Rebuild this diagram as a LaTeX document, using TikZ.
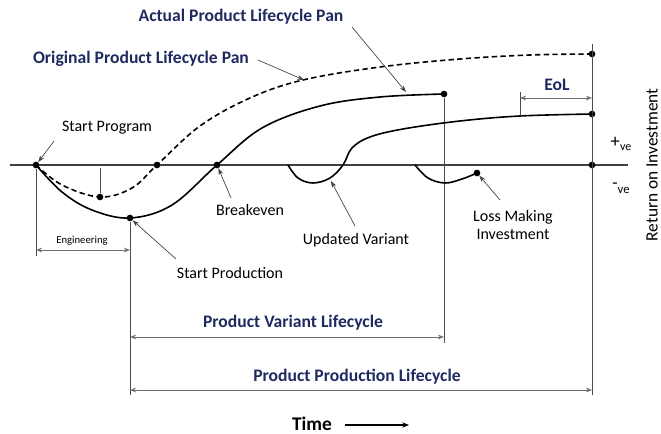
\documentclass[tikz,border=0pt]{standalone}
\usepackage{fontspec}
\setmainfont{Carlito}
\usetikzlibrary{arrows.meta}
\definecolor{navy}{RGB}{30,42,96}
\definecolor{lgray}{RGB}{110,110,110}
\begin{document}
\begin{tikzpicture}[x=0.75pt,y=-0.75pt,
  dot/.style={circle,fill=black,inner sep=0pt,minimum size=5pt},
  lbl/.style={font=\fontsize{12}{13.5}\selectfont,inner sep=1pt,align=center},
  title/.style={font=\bfseries\fontsize{13.2}{15}\selectfont,text=navy,inner sep=1pt},
  pointer/.style={draw=black!75,line width=0.5pt,-{Stealth[length=5pt,width=3.5pt]}},
  dim/.style={draw=lgray,line width=0.7pt,{Stealth[length=4.5pt,width=3.5pt]}-{Stealth[length=4.5pt,width=3.5pt]}},
  guide/.style={draw=black!70,line width=0.6pt},
  curve/.style={line width=1.2pt,line cap=round},
]
\useasboundingbox (0,0) rectangle (661,434);
% axis
\coordinate (axL) at (10,165);
\coordinate (axR) at (628,165);
\draw[line width=0.8pt,draw=black!75] (axL) -- (axR);
% dots
\node[dot] (sp) at (36,165) {};
\node[dot] (dmin) at (100,197) {};
\node[dot] (dcross) at (157,165) {};
\node[dot] (spr) at (130,218) {};
\node[dot] (be) at (217,165) {};
\node[dot] (aend) at (444,94) {};
\node[dot] (oend) at (592,54) {};
\node[dot] (vend) at (592,114) {};
\node[dot] (ax593) at (592,165) {};
\node[dot] (loss) at (477,173) {};
% vertical guide lines
\coordinate (v1b) at (36,256);
\coordinate (v2b) at (130,395);
\coordinate (v3b) at (444,343);
\coordinate (v4t) at (592,44);
\coordinate (v4b) at (592,395);
\coordinate (dminTop) at (100,168);
\draw[guide] (sp) -- (v1b);
\draw[guide] (spr) -- (v2b);
\draw[guide] (aend) -- (v3b);
\draw[guide] (v4t) -- (v4b);
\draw[guide] (dminTop) -- (dmin);
% original (dashed) curve
\draw[line width=1.2pt,dash pattern=on 4pt off 2.5pt] plot[smooth,tension=0.6] coordinates {(36,165) (62,185) (100,197) (132,188) (157,165) (200,126) (250,98) (303,80) (380,67) (460,59) (530,55) (592,54)};
% actual curve
\draw[curve] plot[smooth,tension=0.6] coordinates {(36,165) (62,192) (92,210) (130,218) (172,205) (217,165) (262,128) (320,106) (380,97) (444,94)};
% updated variant curve
\draw[curve] plot[smooth,tension=0.6] coordinates {(288,165) (298,178) (313,183) (330,178) (343,165) (352,148) (370,137) (403,129) (460,121) (520,116) (592,114)};
% loss-making dip
\draw[curve] plot[smooth,tension=0.6] coordinates {(415,165) (428,178) (445,183) (462,179) (477,173)};
% labels and pointers
\node[title] (tact) at (241,17) {Actual Product Lifecycle Pan};
\coordinate (pact) at (406,92);
\draw[pointer] (352,27) -- (pact);
\node[title] (torig) at (141,59) {Original Product Lifecycle Pan};
\coordinate (porig) at (304,80);
\draw[pointer] (258,60) -- (porig);
\node[lbl] (tsp) at (107,128) {Start Program};
\draw[pointer] (54,141) -- (sp);
\node[lbl] (tspr) at (230,273) {Start Production};
\draw[pointer] (176,259) -- (spr);
\node[lbl] (tbe) at (250,210) {Breakeven};
\draw[pointer] (231,198) -- (be);
\node[lbl] (tuv) at (356,240) {Updated Variant};
\coordinate (puv) at (331,181);
\draw[pointer] (355,226) -- (puv);
\node[lbl] (tloss) at (513,225) {Loss Making\\Investment};
\draw[pointer] (500,200) -- (loss);
% dimension arrows
\node[font=\fontsize{8}{9}\selectfont,inner sep=1pt] (teng) at (82,241) {Engineering};
\coordinate (e1) at (36,250);
\coordinate (e2) at (130,250);
\draw[dim] (e1) -- (e2);
\node[title] (teol) at (557,85) {EoL};
\coordinate (eolL) at (520,98);
\coordinate (eolR) at (592,98);
\coordinate (eolT) at (520,92);
\coordinate (eolB) at (520,116);
\draw[guide] (eolT) -- (eolB);
\draw[dim] (eolL) -- (eolR);
\node[title] (tpvl) at (293,323) {Product Variant Lifecycle};
\coordinate (pv1) at (130,337);
\coordinate (pv2) at (444,337);
\draw[dim] (pv1) -- (pv2);
\node[title] (tppl) at (357,377) {Product Production Lifecycle};
\coordinate (pp1) at (130,390);
\coordinate (pp2) at (592,390);
\draw[dim] (pp1) -- (pp2);
% time
\node[font=\bfseries\fontsize{14.5}{16}\selectfont,inner sep=0.5pt] (ttime) at (312,424) {Time};
\coordinate (ta) at (345,425);
\coordinate (tb) at (409,425);
\draw[line width=1pt,-{Stealth[length=5pt,width=4pt]}] (ta) -- (tb);
% ve labels
\node[lbl] (tpos) at (621,144) {{\fontsize{14}{15}\selectfont +}\raisebox{-0.4ex}{\fontsize{9}{10}\selectfont ve}};
\node[lbl] (tneg) at (621,188) {\raisebox{0.6ex}{\fontsize{13}{14}\selectfont -}{\fontsize{9.5}{10}\selectfont ve}};
\node[lbl,rotate=90,font=\fontsize{13}{14}\selectfont] (troi) at (652,165) {Return on Investment};
\end{tikzpicture}
\end{document}
